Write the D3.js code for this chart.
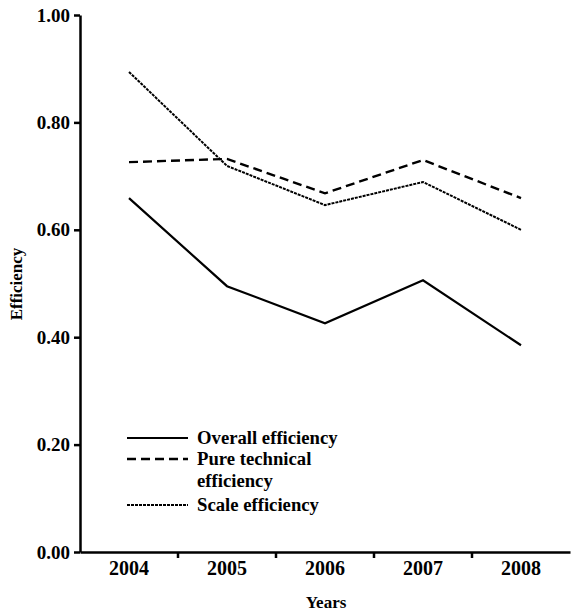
<!DOCTYPE html>
<html>
<head>
<meta charset="utf-8">
<script src="https://cdn.jsdelivr.net/npm/d3@7"></script>
<style>
  body { margin: 0; background: #fff; }
</style>
</head>
<body>
<div id="chart"></div>
<script>
var years = ["2004", "2005", "2006", "2007", "2008"];
var overall = [0.659, 0.495, 0.426, 0.506, 0.385];
var pureTechnical = [0.726, 0.732, 0.668, 0.730, 0.659];
var scaleEff = [0.894, 0.719, 0.646, 0.689, 0.600];
var yTicks = [0, 0.2, 0.4, 0.6, 0.8, 1.0];

var svgWidth = 571;
var svgHeight = 613;
var margin = { top: 15, right: 1, bottom: 61, left: 80 };
var width = svgWidth - margin.left - margin.right;
var height = svgHeight - margin.top - margin.bottom;
var fontFam = "Liberation Serif";

var svg = d3.select("#chart")
  .append("svg")
  .attr("width", svgWidth)
  .attr("height", svgHeight)
  .attr("font-family", fontFam)
  .attr("font-weight", "bold");

var chartGroup = svg.append("g")
  .attr("transform", `translate(${margin.left}, ${margin.top})`);

var xBand = d3.scaleBand().domain(years).range([0, width]);
var yLinearScale = d3.scaleLinear().domain([0, 1]).range([height, 0]);

// y axis
var leftAxis = d3.axisLeft(yLinearScale)
  .tickValues(yTicks)
  .tickFormat(d3.format(".2f"))
  .tickSizeInner(6)
  .tickSizeOuter(0)
  .tickPadding(4);
var yAxis = chartGroup.append("g").call(leftAxis)
  .attr("font-family", fontFam)
  .attr("font-size", 19);
yAxis.select(".domain").attr("stroke-width", 2.5);
yAxis.selectAll(".tick line").attr("stroke-width", 2.5);

// x axis, ticks at band edges
var bottomAxis = d3.axisBottom(xBand).tickSize(0).tickPadding(9);
var xAxis = chartGroup.append("g")
  .attr("transform", `translate(0, ${height})`)
  .call(bottomAxis)
  .attr("font-family", fontFam)
  .attr("font-size", 20);
xAxis.select(".domain").attr("stroke-width", 2.5);
chartGroup.append("g")
  .selectAll("line")
  .data(years.slice(1))
  .enter()
  .append("line")
  .attr("x1", d => xBand(d))
  .attr("x2", d => xBand(d))
  .attr("y1", height)
  .attr("y2", height + 6)
  .attr("stroke", "#000")
  .attr("stroke-width", 2.5);

// series lines
var series = [
  { name: "Overall efficiency", values: overall, dash: null, width: 2.2 },
  { name: "Pure technical efficiency", values: pureTechnical, dash: "9,5", width: 2.4 },
  { name: "Scale efficiency", values: scaleEff, dash: "3,1", width: 2 }
];

var line = d3.line()
  .x((d, i) => xBand(years[i]) + xBand.bandwidth() / 2)
  .y(d => yLinearScale(d));

chartGroup.selectAll(".series")
  .data(series)
  .enter()
  .append("path")
  .attr("d", d => line(d.values))
  .attr("fill", "none")
  .attr("stroke", "#000")
  .attr("stroke-width", d => d.width)
  .attr("stroke-dasharray", d => d.dash);

// legend
var legend = svg.append("g").attr("transform", "translate(127, 438)");
var legendRows = [
  { lines: ["Overall efficiency"], y: 0, s: series[0] },
  { lines: ["Pure technical", "efficiency"], y: 21, s: series[1] },
  { lines: ["Scale efficiency"], y: 67, s: series[2] }
];
legendRows.forEach(function (r) {
  legend.append("line")
    .attr("x1", 0).attr("x2", 61)
    .attr("y1", r.y).attr("y2", r.y)
    .attr("stroke", "#000")
    .attr("stroke-width", r.s.width)
    .attr("stroke-dasharray", r.s.dash);
  r.lines.forEach(function (t, i) {
    legend.append("text")
      .attr("x", 70)
      .attr("y", r.y + 6 + i * 22)
      .attr("font-size", 18.7)
      .text(t);
  });
});

// axis titles
svg.append("text")
  .attr("transform", "rotate(-90)")
  .attr("x", -284)
  .attr("y", 22)
  .attr("text-anchor", "middle")
  .attr("font-size", 17)
  .text("Efficiency");

svg.append("text")
  .attr("x", 326)
  .attr("y", 608)
  .attr("text-anchor", "middle")
  .attr("font-size", 17)
  .text("Years");

svg.selectAll("text")
  .attr("font-family", fontFam)
  .attr("font-weight", "bold")
  .attr("fill", "#000");
</script>
</body>
</html>
